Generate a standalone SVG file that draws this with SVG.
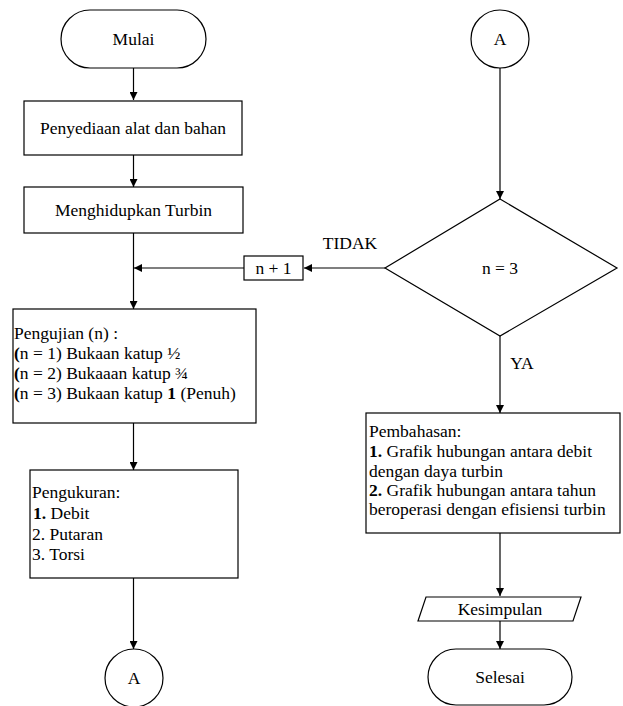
<svg xmlns="http://www.w3.org/2000/svg" width="623" height="706" viewBox="0 0 623 706">
<defs>
<marker id="ah" viewBox="0 0 10 10" refX="10" refY="5" markerWidth="8" markerHeight="8" markerUnits="userSpaceOnUse" orient="auto">
<path d="M0,0 L10,5 L0,10 Z" fill="#000"/>
</marker>
</defs>
<style>
.s{fill:#fff;stroke:#000;stroke-width:1.2}
.c{text-anchor:middle}
.l{fill:none;stroke:#000;stroke-width:1.2}
</style>
<rect width="623" height="706" fill="#fff"/>
<g id="connectors" font-family="Liberation Serif" font-size="17.5">
<line class="l" x1="133.5" y1="68" x2="133.5" y2="100" marker-end="url(#ah)"/>
<line class="l" x1="133.5" y1="155" x2="133.5" y2="187" marker-end="url(#ah)"/>
<line class="l" x1="133.5" y1="233" x2="133.5" y2="309" marker-end="url(#ah)"/>
<line class="l" x1="244" y1="268" x2="134" y2="268" marker-end="url(#ah)"/>
<line class="l" x1="385" y1="268" x2="304" y2="268" marker-end="url(#ah)"/>
<line class="l" x1="133.5" y1="423" x2="133.5" y2="470" marker-end="url(#ah)"/>
<line class="l" x1="133.5" y1="578" x2="133.5" y2="649" marker-end="url(#ah)"/>
<line class="l" x1="500" y1="68" x2="500" y2="199" marker-end="url(#ah)"/>
<line class="l" x1="500" y1="336" x2="500" y2="413" marker-end="url(#ah)"/>
<line class="l" x1="500" y1="533" x2="500" y2="596" marker-end="url(#ah)"/>
<line class="l" x1="500" y1="621" x2="500" y2="649" marker-end="url(#ah)"/>
<text class="c" x="350" y="249">TIDAK</text>
<text class="c" x="522" y="369">YA</text>
</g>
<g id="mulai" font-family="Liberation Serif" font-size="17.5">
<rect class="s" x="61" y="10" width="145" height="58" rx="29"/>
<text class="c" x="133.5" y="45">Mulai</text>
</g>
<g id="penyediaan" font-family="Liberation Serif" font-size="17.5">
<rect class="s" x="24" y="101" width="218" height="54"/>
<text class="c" x="133" y="134">Penyediaan alat dan bahan</text>
</g>
<g id="menghidupkan" font-family="Liberation Serif" font-size="17.5">
<rect class="s" x="24" y="187" width="219" height="46"/>
<text class="c" x="133.5" y="216">Menghidupkan Turbin</text>
</g>
<g id="pengujian" font-family="Liberation Serif" font-size="17.5">
<rect class="s" x="13" y="309" width="243" height="114"/>
<text x="14" y="339">Pengujian (n) :</text>
<text x="14" y="359"><tspan font-weight="bold">(</tspan>n = 1) Bukaan katup ½</text>
<text x="14" y="379"><tspan font-weight="bold">(</tspan>n = 2) Bukaaan katup ¾</text>
<text x="14" y="399"><tspan font-weight="bold">(</tspan>n = 3) Bukaan katup <tspan font-weight="bold">1</tspan> (Penuh)</text>
</g>
<g id="n-plus-1" font-family="Liberation Serif" font-size="17.5">
<rect class="s" x="244" y="256" width="59" height="24"/>
<text class="c" x="273.5" y="274">n + 1</text>
</g>
<g id="pengukuran" font-family="Liberation Serif" font-size="17.5">
<rect class="s" x="30" y="470" width="208" height="108"/>
<text x="32" y="498">Pengukuran:</text>
<text x="33" y="519"><tspan font-weight="bold">1.</tspan> Debit</text>
<text x="32" y="540">2. Putaran</text>
<text x="32" y="560">3. Torsi</text>
</g>
<g id="connector-a-bottom" font-family="Liberation Serif" font-size="17.5">
<circle class="s" cx="134" cy="678" r="29"/>
<text class="c" x="134" y="684">A</text>
</g>
<g id="connector-a-top" font-family="Liberation Serif" font-size="17.5">
<circle class="s" cx="500" cy="39" r="29"/>
<text class="c" x="500" y="45">A</text>
</g>
<g id="decision" font-family="Liberation Serif" font-size="17.5">
<polygon class="s" points="500,199 617,268 500,336 385,268"/>
<text class="c" x="500" y="274">n = 3</text>
</g>
<g id="pembahasan" font-family="Liberation Serif" font-size="17.5">
<rect class="s" x="366" y="413" width="254" height="120"/>
<text x="369" y="437">Pembahasan:</text>
<text x="369" y="457"><tspan font-weight="bold">1.</tspan> Grafik hubungan antara debit</text>
<text x="369" y="477">dengan daya turbin</text>
<text x="369" y="496"><tspan font-weight="bold">2.</tspan> Grafik hubungan antara tahun</text>
<text x="369" y="515">beroperasi dengan efisiensi turbin</text>
</g>
<g id="kesimpulan" font-family="Liberation Serif" font-size="17.5">
<polygon class="s" points="426,597 581,597 573,621 418,621"/>
<text class="c" x="500" y="615">Kesimpulan</text>
</g>
<g id="selesai" font-family="Liberation Serif" font-size="17.5">
<rect class="s" x="428" y="649" width="144" height="56" rx="28"/>
<text class="c" x="500" y="683">Selesai</text>
</g>
</svg>
